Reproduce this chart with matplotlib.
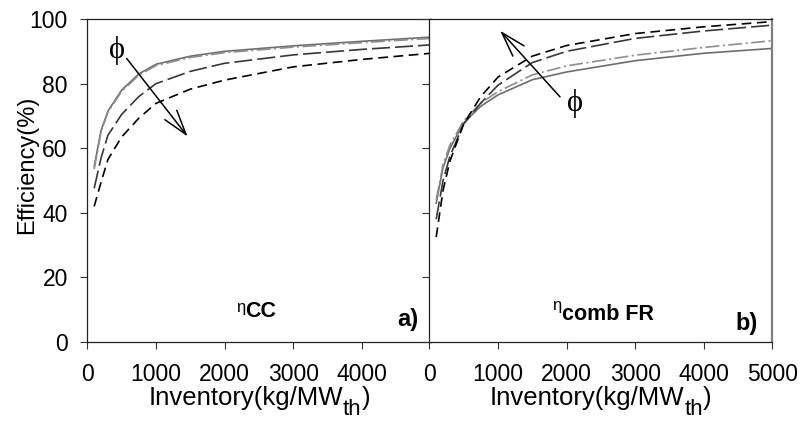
import matplotlib
matplotlib.use("Agg")
import matplotlib.pyplot as plt

plt.rcParams['font.family'] = ['Liberation Sans', 'DejaVu Sans']
plt.rcParams['lines.scale_dashes'] = False

W, H = 804, 421

# inventory (kg/MWth)
inventory = [100, 200, 300, 500, 750, 1000, 1500, 2000, 3000, 4000, 5000]

# a) eta_CC, one curve per phi value
cc_solid = [54.3, 65.5, 71.5, 78.0, 83.0, 86.0, 88.5, 90.0, 91.7, 93.1, 94.4]
cc_dashdot = [53.5, 65.0, 71.2, 77.6, 82.6, 85.6, 88.1, 89.6, 91.3, 92.7, 94.0]
cc_long = [47.6, 57.0, 64.0, 70.5, 76.0, 80.0, 83.8, 86.3, 88.9, 90.6, 92.0]
cc_short = [42.0, 49.5, 56.5, 63.5, 69.3, 73.9, 78.3, 81.1, 85.2, 87.5, 89.4]

# b) eta_comb FR
fr_solid = [43.0, 54.0, 60.0, 67.8, 73.0, 76.5, 81.2, 83.6, 87.1, 89.4, 90.9]
fr_dashdot = [44.0, 55.0, 61.0, 68.5, 74.0, 77.5, 82.7, 85.5, 88.8, 91.2, 93.3]
fr_long = [38.0, 50.0, 57.5, 67.5, 74.0, 79.5, 86.5, 90.0, 94.0, 96.3, 98.1]
fr_short = [32.5, 47.0, 56.0, 67.5, 76.0, 82.0, 88.5, 91.8, 95.5, 97.6, 99.2]

styles = [
    dict(color='#6e6e6e', lw=1.2, ls='-'),
    dict(color='#8e8e8e', lw=1.2, dashes=(10, 2.5, 1.5, 2.5)),
    dict(color='#383838', lw=1.2, dashes=(13, 3.6)),
    dict(color='#000000', lw=1.2, dashes=(7, 4)),
]

fig = plt.figure(figsize=(W / 100, H / 100), dpi=100)
ax1 = fig.add_axes([0.1086, 0.1876, 0.4272, 0.7672])
ax2 = fig.add_axes([0.5340, 0.1876, 0.4266, 0.7672])

for ax, series in ((ax1, [cc_solid, cc_dashdot, cc_long, cc_short]),
                   (ax2, [fr_solid, fr_dashdot, fr_long, fr_short])):
    for ys, st in zip(series, styles):
        ax.plot(inventory, ys, **st)
    ax.set_xlim(0, 5000)
    ax.set_ylim(0, 100)
    ax.set_yticks(range(0, 101, 20))
    ax.tick_params(direction='out', length=5, width=0.8, color='#333333',
                   labelsize=16.5)
    ax.tick_params(axis='x', pad=10)
    ax.tick_params(axis='y', pad=9)
    for s in ax.spines.values():
        s.set_linewidth(0.9)
        s.set_color('#222222')

ax1.set_xticks([0, 1000, 2000, 3000, 4000])
ax2.set_xticks([0, 1000, 2000, 3000, 4000, 5000])
ax2.tick_params(axis='y', labelleft=False)
ax2.spines['right'].set_color('#808080')
ax2.spines['right'].set_linewidth(1.6)

fig.text(27 / W, 1 - 165 / H, 'Efficiency(%)', rotation=90,
         ha='center', va='center', fontsize=17)


# x label with a full-height subscript, built from three pieces
def inventory_label(ax):
    parts = [('Inventory(kg/MW', 18.5, 405), ('th', 16, 415), (')', 18.5, 405)]
    texts = [fig.text(0, 0, s, fontsize=fs, va='baseline', ha='left')
             for s, fs, _ in parts]
    r = fig.canvas.get_renderer()
    widths = [t.get_window_extent(r).width for t in texts]
    bb = ax.get_position()
    x = (bb.x0 + bb.x1) / 2 * W - sum(widths) / 2
    for t, w, (_, _, base) in zip(texts, widths, parts):
        t.set_position((x / W, 1 - base / H))
        x += w


inventory_label(ax1)
inventory_label(ax2)

arrow = dict(arrowstyle='->,head_length=0.85,head_width=0.26',
             mutation_scale=21, lw=1.1, color='black', shrinkA=0, shrinkB=0)
phi_font = dict(family=['Liberation Serif', 'DejaVu Serif'], fontsize=22,
                ha='center', va='center')

ax1.annotate('', xy=(1461, 63.6), xytext=(573, 87.8), arrowprops=arrow)
ax1.text(428, 90.4, 'ϕ', **phi_font)
ax2.annotate('', xy=(1031, 96.4), xytext=(1905, 75.9), arrowprops=arrow)
ax2.text(2124, 73.9, 'ϕ', **phi_font)

ax1.text(2174, 13.0, 'η', fontsize=12, va='top', ha='left')
ax1.text(2295, 7.8, 'CC', fontsize=15.5, weight='bold', va='baseline', ha='left')
ax1.text(4814, 5.0, 'a)', fontsize=17, weight='bold', va='baseline', ha='right')

ax2.text(1790, 13.5, 'η', fontsize=12, va='top', ha='left')
ax2.text(1934, 6.8, 'comb FR', fontsize=15.5, weight='bold', va='baseline', ha='left')
ax2.text(4792, 3.7, 'b)', fontsize=17, weight='bold', va='baseline', ha='right')

fig.savefig('out.png', dpi=100)
